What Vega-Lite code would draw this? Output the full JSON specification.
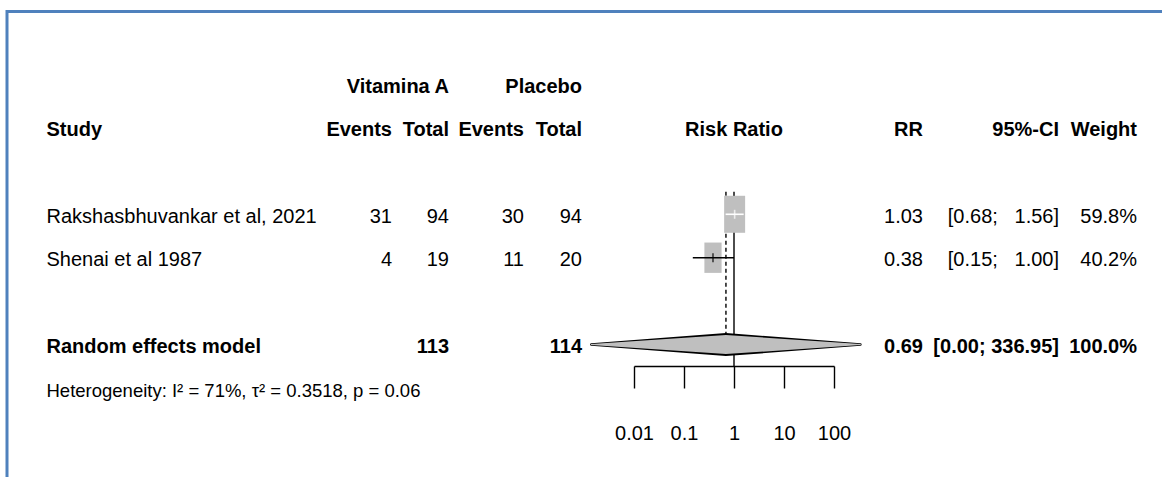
{
  "$schema": "https://vega.github.io/schema/vega-lite/v6.json",
  "width": 1159,
  "height": 469.5,
  "autosize": {"type": "none"},
  "padding": {"left": 7, "top": 11.5, "right": -4, "bottom": -4},
  "background": "white",
  "config": {
    "view": {"stroke": "#4f81bd", "strokeWidth": 3},
    "text": {"font": "Liberation Sans, Arial, sans-serif", "fontSize": 20, "baseline": "middle", "dy": 2.5, "color": "#000000"},
    "axis": {"labelFont": "Liberation Sans, Arial, sans-serif"}
  },
  "datasets": {
    "studies": [
      {"row": "Rakshasbhuvankar et al, 2021", "ev_t": 31, "n_t": 94, "ev_c": 30, "n_c": 94, "rr": 1.03, "lower": 0.68, "upper": 1.56, "ci": "[0.68;\u00a0\u00a0\u00a01.56]", "weight": 0.598},
      {"row": "Shenai et al 1987", "ev_t": 4, "n_t": 19, "ev_c": 11, "n_c": 20, "rr": 0.38, "lower": 0.15, "upper": 1.00, "ci": "[0.15;\u00a0\u00a0\u00a01.00]", "weight": 0.402}
    ],
    "pooled": [
      {"row": "Random effects model", "n_t": 113, "n_c": 114, "rr": 0.69, "lower": 0.0014, "upper": 336.95, "ci": "[0.00; 336.95]", "weight": 1.0}
    ],
    "headers": [
      {"row": "group header", "key": "n_t", "text": "Vitamina A"},
      {"row": "group header", "key": "n_c", "text": "Placebo"},
      {"row": "column header", "key": "study", "text": "Study"},
      {"row": "column header", "key": "ev_t", "text": "Events"},
      {"row": "column header", "key": "n_t", "text": "Total"},
      {"row": "column header", "key": "ev_c", "text": "Events"},
      {"row": "column header", "key": "n_c", "text": "Total"},
      {"row": "column header", "key": "effect", "text": "Risk Ratio"},
      {"row": "column header", "key": "rr", "text": "RR"},
      {"row": "column header", "key": "ci", "text": "95%-CI"},
      {"row": "column header", "key": "weight", "text": "Weight"}
    ],
    "heterogeneity": [
      {"row": "Heterogeneity", "text": "Heterogeneity: I² = 71%, τ² = 0.3518, p = 0.06"}
    ]
  },
  "encoding": {
    "y": {"field": "row", "type": "nominal", "axis": null,
      "scale": {"type": "point", "padding": 0, "range": [72.5, 376.5],
        "domain": ["group header", "column header", "gap 1", "Rakshasbhuvankar et al, 2021", "Shenai et al 1987", "gap 2", "Random effects model", "Heterogeneity"]}}
  },
  "resolve": {"scale": {"x": "independent"}, "axis": {"x": "independent"}},
  "layer": [
    {
      "layer": [
        {"data": {"name": "headers"}, "transform": [{"filter": "datum.key === 'study'"}],
         "mark": {"type": "text", "align": "left", "fontWeight": "bold"},
         "encoding": {"x": {"field": "key", "type": "nominal", "axis": null, "scale": {"type": "point", "padding": 0, "domain": ["study"], "range": [39.5, 39.5]}},
                      "text": {"field": "text", "type": "nominal"}}},
        {"data": {"name": "studies"},
         "mark": {"type": "text", "align": "left"},
         "encoding": {"x": {"datum": "study", "type": "nominal", "axis": null, "scale": {"type": "point", "padding": 0, "domain": ["study"], "range": [39.5, 39.5]}},
                      "text": {"field": "row", "type": "nominal"}}},
        {"data": {"name": "pooled"},
         "mark": {"type": "text", "align": "left", "fontWeight": "bold"},
         "encoding": {"x": {"datum": "study", "type": "nominal", "axis": null, "scale": {"type": "point", "padding": 0, "domain": ["study"], "range": [39.5, 39.5]}},
                      "text": {"field": "row", "type": "nominal"}}},
        {"data": {"name": "heterogeneity"},
         "mark": {"type": "text", "align": "left", "fontSize": 18.5},
         "encoding": {"x": {"datum": "study", "type": "nominal", "axis": null, "scale": {"type": "point", "padding": 0, "domain": ["study"], "range": [39.5, 39.5]}},
                      "text": {"field": "text", "type": "nominal"}}}
      ]
    },
    {
      "layer": [
        {"data": {"name": "headers"}, "transform": [{"filter": {"field": "key", "oneOf": ["ev_t", "n_t"]}}],
         "mark": {"type": "text", "align": "right", "fontWeight": "bold"},
         "encoding": {"x": {"field": "key", "type": "nominal", "axis": null, "scale": {"type": "point", "padding": 0, "domain": ["ev_t", "n_t"], "range": [385, 442]}},
                      "text": {"field": "text", "type": "nominal"}}},
        {"data": {"name": "studies"}, "transform": [{"fold": ["ev_t", "n_t"], "as": ["key", "value"]}],
         "mark": {"type": "text", "align": "right"},
         "encoding": {"x": {"field": "key", "type": "nominal", "axis": null, "scale": {"type": "point", "padding": 0, "domain": ["ev_t", "n_t"], "range": [385, 442]}},
                      "text": {"field": "value", "type": "nominal"}}},
        {"data": {"name": "pooled"},
         "mark": {"type": "text", "align": "right", "fontWeight": "bold"},
         "encoding": {"x": {"datum": "n_t", "type": "nominal", "axis": null, "scale": {"type": "point", "padding": 0, "domain": ["ev_t", "n_t"], "range": [385, 442]}},
                      "text": {"field": "n_t", "type": "nominal"}}}
      ]
    },
    {
      "layer": [
        {"data": {"name": "headers"}, "transform": [{"filter": {"field": "key", "oneOf": ["ev_c", "n_c"]}}],
         "mark": {"type": "text", "align": "right", "fontWeight": "bold"},
         "encoding": {"x": {"field": "key", "type": "nominal", "axis": null, "scale": {"type": "point", "padding": 0, "domain": ["ev_c", "n_c"], "range": [517, 575]}},
                      "text": {"field": "text", "type": "nominal"}}},
        {"data": {"name": "studies"}, "transform": [{"fold": ["ev_c", "n_c"], "as": ["key", "value"]}],
         "mark": {"type": "text", "align": "right"},
         "encoding": {"x": {"field": "key", "type": "nominal", "axis": null, "scale": {"type": "point", "padding": 0, "domain": ["ev_c", "n_c"], "range": [517, 575]}},
                      "text": {"field": "value", "type": "nominal"}}},
        {"data": {"name": "pooled"},
         "mark": {"type": "text", "align": "right", "fontWeight": "bold"},
         "encoding": {"x": {"datum": "n_c", "type": "nominal", "axis": null, "scale": {"type": "point", "padding": 0, "domain": ["ev_c", "n_c"], "range": [517, 575]}},
                      "text": {"field": "n_c", "type": "nominal"}}}
      ]
    },
    {
      "layer": [
        {"data": {"name": "headers"}, "transform": [{"filter": "datum.key === 'rr'"}],
         "mark": {"type": "text", "align": "right", "fontWeight": "bold"},
         "encoding": {"x": {"field": "key", "type": "nominal", "axis": null, "scale": {"type": "point", "padding": 0, "domain": ["rr"], "range": [916, 916]}},
                      "text": {"field": "text", "type": "nominal"}}},
        {"data": {"name": "studies"},
         "mark": {"type": "text", "align": "right"},
         "encoding": {"x": {"datum": "rr", "type": "nominal", "axis": null, "scale": {"type": "point", "padding": 0, "domain": ["rr"], "range": [916, 916]}},
                      "text": {"field": "rr", "type": "quantitative", "format": ".2f"}}},
        {"data": {"name": "pooled"},
         "mark": {"type": "text", "align": "right", "fontWeight": "bold"},
         "encoding": {"x": {"datum": "rr", "type": "nominal", "axis": null, "scale": {"type": "point", "padding": 0, "domain": ["rr"], "range": [916, 916]}},
                      "text": {"field": "rr", "type": "quantitative", "format": ".2f"}}}
      ]
    },
    {
      "layer": [
        {"data": {"name": "headers"}, "transform": [{"filter": "datum.key === 'ci'"}],
         "mark": {"type": "text", "align": "right", "fontWeight": "bold"},
         "encoding": {"x": {"field": "key", "type": "nominal", "axis": null, "scale": {"type": "point", "padding": 0, "domain": ["ci"], "range": [1052, 1052]}},
                      "text": {"field": "text", "type": "nominal"}}},
        {"data": {"name": "studies"},
         "mark": {"type": "text", "align": "right"},
         "encoding": {"x": {"datum": "ci", "type": "nominal", "axis": null, "scale": {"type": "point", "padding": 0, "domain": ["ci"], "range": [1052, 1052]}},
                      "text": {"field": "ci", "type": "nominal"}}},
        {"data": {"name": "pooled"},
         "mark": {"type": "text", "align": "right", "fontWeight": "bold"},
         "encoding": {"x": {"datum": "ci", "type": "nominal", "axis": null, "scale": {"type": "point", "padding": 0, "domain": ["ci"], "range": [1052, 1052]}},
                      "text": {"field": "ci", "type": "nominal"}}}
      ]
    },
    {
      "layer": [
        {"data": {"name": "headers"}, "transform": [{"filter": "datum.key === 'weight'"}],
         "mark": {"type": "text", "align": "right", "fontWeight": "bold"},
         "encoding": {"x": {"field": "key", "type": "nominal", "axis": null, "scale": {"type": "point", "padding": 0, "domain": ["weight"], "range": [1130, 1130]}},
                      "text": {"field": "text", "type": "nominal"}}},
        {"data": {"name": "studies"},
         "mark": {"type": "text", "align": "right"},
         "encoding": {"x": {"datum": "weight", "type": "nominal", "axis": null, "scale": {"type": "point", "padding": 0, "domain": ["weight"], "range": [1130, 1130]}},
                      "text": {"field": "weight", "type": "quantitative", "format": ".1%"}}},
        {"data": {"name": "pooled"},
         "mark": {"type": "text", "align": "right", "fontWeight": "bold"},
         "encoding": {"x": {"datum": "weight", "type": "nominal", "axis": null, "scale": {"type": "point", "padding": 0, "domain": ["weight"], "range": [1130, 1130]}},
                      "text": {"field": "weight", "type": "quantitative", "format": ".1%"}}}
      ]
    },
    {
      "data": {"name": "headers"},
      "transform": [{"filter": "datum.key === 'effect'"}],
      "mark": {"type": "text", "align": "center", "fontWeight": "bold"},
      "encoding": {"x": {"datum": 1, "type": "quantitative", "axis": null, "scale": {"type": "log", "domain": [0.01, 100], "range": [627, 827]}},
                   "text": {"field": "text", "type": "nominal"}}
    },
    {
      "encoding": {
        "x": {"field": "rr", "type": "quantitative",
              "scale": {"type": "log", "domain": [0.01, 100], "range": [627, 827]},
              "axis": {"orient": "bottom", "offset": -115, "values": [0.01, 0.1, 1, 10, 100], "format": "~g", "title": null, "grid": false,
                       "domainColor": "#000000", "domainWidth": 1.4, "tickColor": "#000000", "tickWidth": 1.4, "tickSize": 22,
                       "labelFontSize": 20, "labelColor": "#000000", "labelPadding": 35, "labelOverlap": false, "labelFlush": false, "labelBound": false}}
      },
      "layer": [
        {"data": {"name": "pooled"},
         "mark": {"type": "rule", "color": "#000000", "strokeWidth": 1.4, "yOffset": -22.5, "y2Offset": 21.4},
         "encoding": {"x": {"datum": 1, "type": "quantitative"},
                      "y": {"datum": "Rakshasbhuvankar et al, 2021", "type": "nominal"},
                      "y2": {"datum": "Random effects model"}}},
        {"data": {"name": "pooled"},
         "mark": {"type": "rule", "color": "#000000", "strokeWidth": 1.4, "strokeDash": [4, 3], "yOffset": -22.5, "y2Offset": -11.6},
         "encoding": {"y": {"datum": "Rakshasbhuvankar et al, 2021", "type": "nominal"},
                      "y2": {"datum": "Random effects model"}}},
        {"data": {"name": "studies"},
         "mark": {"type": "point", "shape": "M-0.567,-1H0.567V1H-0.567Z", "filled": true, "color": "#bfbfbf", "opacity": 1, "strokeWidth": 0},
         "encoding": {"size": {"field": "weight", "type": "quantitative", "legend": null, "scale": {"domain": [0, 1], "range": [0, 2290]}}}},
        {"data": {"name": "studies"},
         "mark": {"type": "rule", "strokeWidth": 1.6},
         "encoding": {"x": {"field": "lower", "type": "quantitative"},
                      "x2": {"field": "upper"},
                      "color": {"condition": {"test": "datum.row === 'Rakshasbhuvankar et al, 2021'", "value": "#ffffff"}, "value": "#000000"}}},
        {"data": {"name": "studies"},
         "mark": {"type": "tick", "orient": "vertical", "size": 9, "thickness": 1.6},
         "encoding": {"color": {"condition": {"test": "datum.row === 'Rakshasbhuvankar et al, 2021'", "value": "#ffffff"}, "value": "#000000"}}},
        {"data": {"name": "pooled"}, "transform": [{"fold": ["lower", "rr", "upper"], "as": ["key", "value"]}],
         "mark": {"type": "trail", "color": "#000000", "opacity": 1},
         "encoding": {"x": {"field": "value", "type": "quantitative"},
                      "size": {"condition": {"test": "datum.key === 'rr'", "value": 23}, "value": 2.5}}},
        {"data": {"name": "pooled"}, "transform": [{"fold": ["lower", "rr", "upper"], "as": ["key", "value"]}],
         "mark": {"type": "trail", "color": "#bfbfbf", "opacity": 1},
         "encoding": {"x": {"field": "value", "type": "quantitative"},
                      "size": {"condition": {"test": "datum.key === 'rr'", "value": 19}, "value": 0}}}
      ]
    }
  ]
}
